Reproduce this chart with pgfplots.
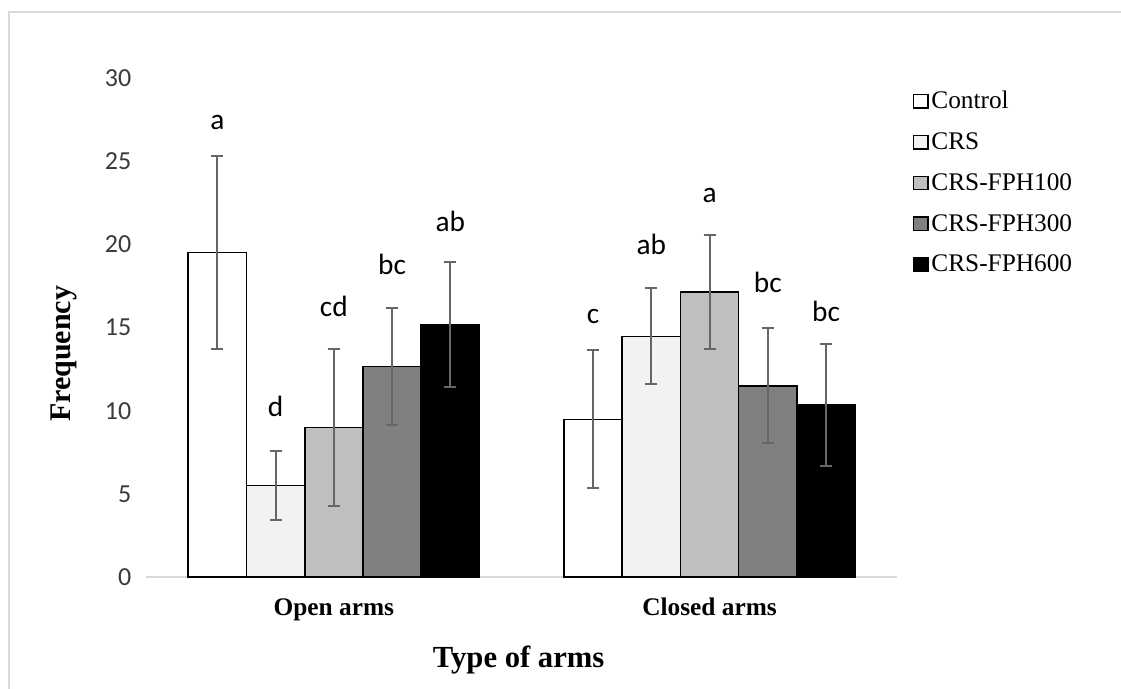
\documentclass[border=0pt]{standalone}
\usepackage{pgfplots}
\pgfplotsset{compat=1.18}
\usepackage{fontspec}
\setmainfont{Liberation Serif}
\newfontfamily\calibri{Carlito}
\definecolor{c1}{HTML}{FFFFFF}
\definecolor{c2}{HTML}{F2F2F2}
\definecolor{c3}{HTML}{BFBFBF}
\definecolor{c4}{HTML}{808080}
\definecolor{c5}{HTML}{000000}
\definecolor{errc}{HTML}{666666}
\definecolor{axc}{HTML}{D9D9D9}
\definecolor{tickc}{HTML}{3A3A3A}
\pgfplotsset{
  mybar/.style={ybar, bar width=0.155, bar shift=0pt, draw=black, line width=1.2pt,
    legend image code/.code={\draw[##1,line width=1pt] (0pt,-5pt) rectangle (11pt,5pt);},
    error bars/.cd, y dir=both, y explicit,
    error bar style={errc, line width=1.5pt},
    error mark options={rotate=90, errc, line width=1.5pt, mark size=4.5pt},
    /pgfplots/.cd},
}
\begin{document}
\begin{tikzpicture}
\path[use as bounding box] (-109.5pt,-84pt) rectangle (731.25pt,432.75pt);
\draw[axc, line width=1.5pt] (-102.75pt,-84pt) -- (-102.75pt,423.75pt) -- (731.25pt,423.75pt);
\begin{axis}[
  at={(0,0)}, anchor=south west,
  scale only axis, width=563.55pt, height=374.25pt,
  xmin=-0.5, xmax=1.5, ymin=0, ymax=30,
  clip=false,
  axis x line=bottom, axis y line=left,
  axis line style={-},
  x axis line style={draw=axc, line width=1.1pt},
  y axis line style={draw=none},
  major tick length=0pt,
  ytick={0,5,10,15,20,25,30},
  xtick={0,1}, xticklabels={Open arms, Closed arms},
  /pgf/number format/assume math mode=true,
  yticklabel style={font=\calibri\fontsize{19.5}{23}\selectfont, text=tickc, xshift=-7.5pt},
  xticklabel style={font=\bfseries\fontsize{19}{22}\selectfont, anchor=base, yshift=-28.5pt},
  xlabel={Type of arms}, ylabel={Frequency},
  every axis x label/.style={at={(axis description cs:0.496,-0.1804)}, anchor=base, font=\bfseries\fontsize{23}{27}\selectfont},
  every axis y label/.style={at={(axis description cs:-0.101,0.447)}, rotate=90, anchor=base, font=\bfseries\fontsize{22.5}{27}\selectfont},
  legend style={at={(axis description cs:1.02,0.979)}, anchor=north west, draw=none, fill=none,
    font=\fontsize{19}{22.8}\selectfont, row sep=12.4pt, inner sep=0pt},
  legend cell align=left,
]
\addplot[mybar, fill=c1] coordinates {(-0.31,19.5) +- (0,5.8) (0.69,9.48) +- (0,4.15)};
\addplot[mybar, fill=c2] coordinates {(-0.155,5.5) +- (0,2.05) (0.845,14.47) +- (0,2.88)};
\addplot[mybar, fill=c3] coordinates {(0,9.0) +- (0,4.72) (1,17.14) +- (0,3.43)};
\addplot[mybar, fill=c4] coordinates {(0.155,12.65) +- (0,3.5) (1.155,11.49) +- (0,3.45)};
\addplot[mybar, fill=c5] coordinates {(0.31,15.17) +- (0,3.75) (1.31,10.34) +- (0,3.67)};
\addplot[draw=none, mark=none, forget plot, nodes near coords, point meta=explicit symbolic,
  every node near coord/.style={anchor=base, font=\calibri\fontsize{22}{26}\selectfont, inner sep=0pt}]
  coordinates {(-0.31,26.88)[a] (-0.155,9.64)[d] (0,15.69)[cd] (0.155,18.16)[bc] (0.31,20.76)[ab]
               (0.69,15.26)[c] (0.845,19.4)[ab] (1,22.53)[a] (1.155,17.1)[bc] (1.31,15.35)[bc]};
\legend{Control, CRS, CRS-FPH100, CRS-FPH300, CRS-FPH600}
\end{axis}
\end{tikzpicture}
\end{document}
